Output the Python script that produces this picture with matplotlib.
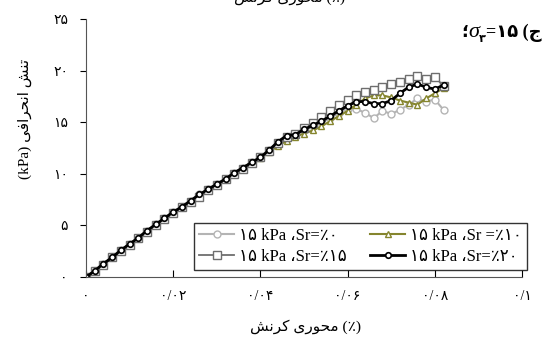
import matplotlib
matplotlib.use("Agg")
import matplotlib.pyplot as plt

# axial strain, marker every 0.002
strain = [0.000, 0.002, 0.004, 0.006, 0.008, 0.010, 0.012, 0.014, 0.016, 0.018,
          0.020, 0.022, 0.024, 0.026, 0.028, 0.030, 0.032, 0.034, 0.036, 0.038,
          0.040, 0.042, 0.044, 0.046, 0.048, 0.050, 0.052, 0.054, 0.056, 0.058,
          0.060, 0.062, 0.064, 0.066, 0.068, 0.070, 0.072, 0.074, 0.076, 0.078,
          0.080, 0.082]

# deviator stress (kPa)
sr0 = [0, 0.6, 1.3, 1.9, 2.6, 3.2, 3.8, 4.5, 5.1, 5.7,
       6.3, 6.8, 7.4, 8.0, 8.5, 9.0, 9.5, 10.1, 10.6, 11.1,
       11.6, 12.3, 13.0, 13.6, 13.9, 14.2, 14.6, 15.0, 15.4, 15.9,
       16.3, 16.3, 15.9, 15.4, 16.1, 15.8, 16.2, 16.7, 17.3, 17.0,
       17.2, 16.2]
sr10 = [0, 0.6, 1.3, 1.9, 2.6, 3.2, 3.8, 4.5, 5.0, 5.6,
        6.2, 6.8, 7.3, 7.9, 8.4, 8.9, 9.5, 10.0, 10.6, 11.1,
        11.5, 12.1, 12.7, 13.2, 13.6, 13.9, 14.2, 14.6, 15.1, 15.6,
        16.1, 16.7, 17.3, 17.6, 17.6, 17.4, 17.1, 16.9, 16.7, 17.3,
        17.8, 18.3]
sr15 = [0, 0.6, 1.2, 1.9, 2.5, 3.1, 3.8, 4.4, 5.0, 5.6,
        6.2, 6.8, 7.3, 7.8, 8.4, 8.9, 9.5, 10.0, 10.5, 11.0,
        11.6, 12.2, 13.0, 13.6, 13.9, 14.4, 14.9, 15.5, 16.1, 16.7,
        17.2, 17.6, 17.9, 18.1, 18.4, 18.7, 18.9, 19.2, 19.5, 19.2,
        19.4, 18.5]
sr20 = [0, 0.6, 1.3, 1.9, 2.6, 3.2, 3.8, 4.5, 5.1, 5.7,
        6.3, 6.8, 7.4, 8.0, 8.5, 9.0, 9.5, 10.1, 10.6, 11.1,
        11.6, 12.3, 13.1, 13.7, 13.8, 14.3, 14.7, 15.1, 15.6, 16.1,
        16.6, 17.0, 17.0, 16.8, 16.8, 17.1, 17.8, 18.4, 18.7, 18.4,
        18.2, 18.6]

xticks = [0, 0.02, 0.04, 0.06, 0.08, 0.1]
xtick_labels = ['۰', '۰/۰۲', '۰/۰۴', '۰/۰۶', '۰/۰۸', '۰/۱']
yticks = [0, 5, 10, 15, 20, 25]
ytick_labels = ['۰', '۵', '۱۰', '۱۵', '۲۰', '۲۵']

labels = ['۱۵ kPa ،Sr=٪۰', '۱۵ kPa ،Sr =٪۱۰', '۱۵ kPa ،Sr=٪۱۵', '۱۵ kPa ،Sr=٪۲۰']

# Persian words in visual order (presentation forms, since matplotlib does no shaping)
w_tanesh = '\ufeb6\ufee8\ufe97'
w_enheraf = '\ufbfd\ufed3\ufe8d\ufeae\ufea4\ufee7\ufe8d'
w_kornesh = '\ufeb6\ufee7\ufeae\ufb90'
w_mehvari = '\ufbfc\ufead\ufeee\ufea4\ufee3'
xlabel = w_kornesh + ' ' + w_mehvari + ' (٪)'
ylabel = '(kPa) ' + w_enheraf + ' ' + w_tanesh

fam = ['Liberation Serif', 'DejaVu Sans']
plt.rcParams['font.family'] = fam

fig = plt.figure(figsize=(5.42, 3.42), dpi=100)
ax = fig.add_axes([0.1587, 0.19, 0.8044, 0.7544])

l0, = ax.plot(strain, sr0, color='#b4b4b4', lw=1.5, marker='o', ms=5,
              mfc='white', mec='#b4b4b4', mew=1.0)
l10, = ax.plot(strain, sr10, color='#85852e', lw=1.5, marker='^', ms=5,
               mfc='white', mec='#85852e', mew=1.0)
l15, = ax.plot(strain, sr15, color='#6e6e6e', lw=1.3, marker='s', ms=6,
               mfc='white', mec='#6e6e6e', mew=1.0)
l20, = ax.plot(strain, sr20, color='black', lw=2.0, marker='o', ms=4,
               mfc='white', mec='black', mew=1.2)

ax.set_xlim(0, 0.1)
ax.set_ylim(0, 25)
ax.set_xticks(xticks)
ax.set_xticklabels(xtick_labels, fontsize=10)
ax.set_yticks(yticks)
ax.set_yticklabels(ytick_labels, fontsize=10)
ax.tick_params(axis='x', direction='in', length=5, pad=9)
ax.tick_params(axis='y', direction='out', length=4, pad=9)
for s in ['top', 'right']:
    ax.spines[s].set_visible(False)
for s in ['left', 'bottom']:
    ax.spines[s].set_color('#555555')

leg = fig.legend([l0, l15, l10, l20], [labels[0], labels[2], labels[1], labels[3]],
                 ncol=2, loc='lower right', bbox_to_anchor=(0.973, 0.21),
                 borderaxespad=0, fontsize=12, frameon=True, fancybox=False,
                 edgecolor='black', handlelength=2.1, handletextpad=0.3,
                 columnspacing=1.4, labelspacing=0.3, borderpad=0.3)
leg.get_frame().set_linewidth(1.0)

fig.text(0.563, 0.044, xlabel, ha='center', va='center', fontsize=11)
fig.text(0.046, 0.652, ylabel, ha='center', va='center', rotation=90, fontsize=11)
# clipped label of the panel above
fig.text(0.535, 1.008, xlabel, ha='center', va='center', fontsize=11)

# panel title, built right to left
renderer = fig.canvas.get_renderer()
x = 0.999
ybase = 0.905
pieces = [('=۱۵ (\ufe9d', 13, 0, 'bold', 'normal', fam),
          ('۳', 8, -0.02, 'bold', 'normal', fam),
          ('σ', 16, 0, 'normal', 'italic', ['Liberation Serif']),
          ('\u061b', 13, 0, 'bold', 'normal', fam)]
for s, size, dy, wt, st, f in pieces:
    t = fig.text(x, ybase + dy, s, ha='right', va='center', fontsize=size,
                 fontweight=wt, fontstyle=st, family=f)
    bb = t.get_window_extent(renderer)
    x = bb.x0 / fig.bbox.width

fig.savefig('out.png', dpi=100)
